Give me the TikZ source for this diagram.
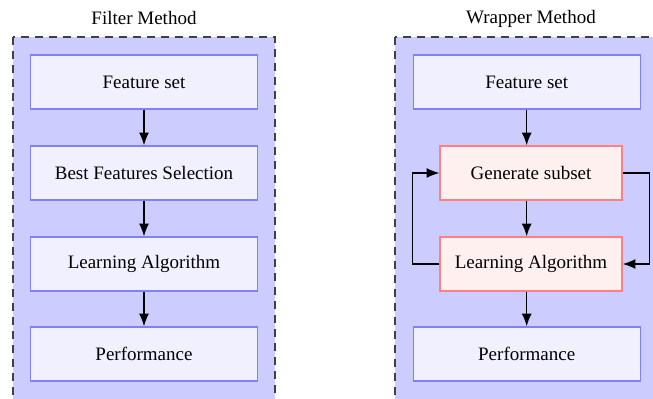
\documentclass[tikz,border=0pt]{standalone}
\usepackage{fontspec}
\setmainfont{Liberation Serif}
\usepackage{tikz}
\usetikzlibrary{arrows.meta,positioning,backgrounds}
\definecolor{contfill}{RGB}{204,204,255}
\definecolor{bluefill}{RGB}{240,240,255}
\definecolor{blueline}{RGB}{128,128,255}
\definecolor{redfill}{RGB}{255,240,240}
\definecolor{redline}{RGB}{255,128,128}
\tikzset{%
bluebox/.style={rectangle, draw=blueline, line width=1pt, fill=bluefill, minimum width=170.25pt, minimum height=40.5pt, inner sep=0pt},
redbox/.style={rectangle, draw=redline, line width=1pt, fill=redfill, minimum width=136.5pt, minimum height=40.5pt, inner sep=0pt},
pt/.style={draw=black, line width=1.1pt, -{Latex[length=9.5pt,width=7.5pt]}}
}

\begin{document}
\begin{tikzpicture}[x=0.75pt,y=-0.75pt,
		font=\fontsize{14.25}{17}\selectfont,
		node distance=26.75pt,
		cont/.style={fill=contfill, draw=black!75, line width=1pt, dash pattern=on 6pt off 4.5pt}]
		\useasboundingbox (0,0) rectangle (653,399);
		% containers
		\path[cont] (13,37) rectangle (275,420);
		\path[cont] (395,37) rectangle (657,420);
		\node (tone) at (144,18.5) {Filter Method};
		\node (ttwo) at (531,18.5) {Wrapper Method};
		% filter method
		\node[bluebox] (fsone) at (144,82) {Feature set};
		\node[bluebox] (bfs) [below=of fsone] {Best Features Selection};
		\node[bluebox] (laone) [below=of bfs] {Learning Algorithm};
		\node[bluebox] (pfone) [below=26pt of laone] {Performance};
		% wrapper method
		\node[bluebox] (fstwo) at (526.7,82) {Feature set};
		\node[redbox] (gen) at (531,173) {Generate subset};
		\node[redbox] (latwo) at (531,264) {Learning Algorithm};
		\node[bluebox] (pftwo) at (526.7,354) {Performance};
		
		\draw[pt] (fsone) -- (bfs);
		\draw[pt] (bfs) -- (laone);
		\draw[pt] (laone) -- (pfone);
		\draw[pt] (fstwo) -- (fstwo |- gen.north);
		\draw[pt] (gen.south -| fstwo) -- (latwo.north -| fstwo);
		\draw[pt] (latwo.south -| pftwo) -- (pftwo);
		\draw[pt] (latwo.west) -- ++(-27,0) |- (gen.west);
		\draw[pt] (gen.east) -- ++(27,0) |- (latwo.east);
	\end{tikzpicture}
\end{document}
